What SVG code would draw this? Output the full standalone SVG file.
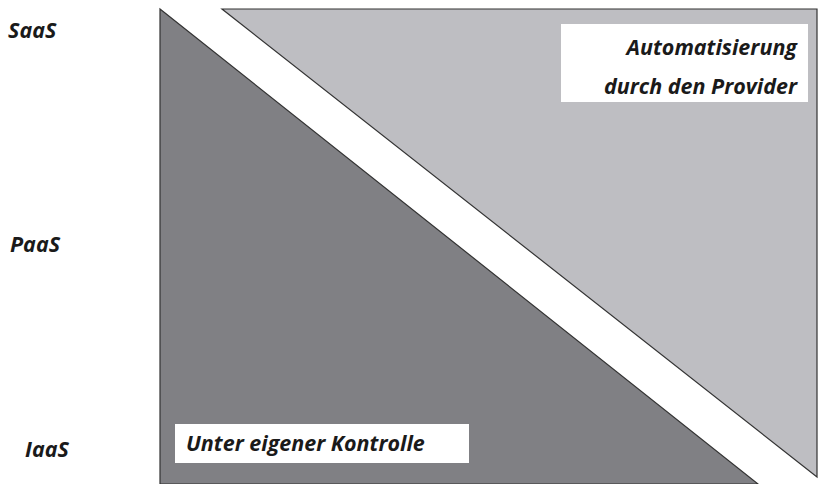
<svg xmlns="http://www.w3.org/2000/svg" width="818" height="484" viewBox="0 0 818 484">
<style>
.lbl{font-family:"Open Sans","Liberation Sans",sans-serif;font-weight:bold;font-style:italic;font-size:21.5px;fill:#1a1a1a}
.box{fill:#ffffff}
.tri{stroke:#333333;stroke-width:1.2}
</style>
<rect width="818" height="484" fill="#ffffff"/>
<g id="dark-area">
<polygon class="tri" points="160,9 758,484 160,484" fill="#808084"/>
</g>
<g id="light-area">
<polygon class="tri" points="222,9 817,9 817,477" fill="#bebec2"/>
</g>
<g id="connectors"></g>
<g id="provider-box">
<rect class="box" x="561" y="24" width="247" height="78"/>
<text class="lbl" x="797" y="55" text-anchor="end">Automatisierung</text>
<text class="lbl" x="797" y="94" text-anchor="end">durch den Provider</text>
</g>
<g id="control-box">
<rect class="box" x="175" y="424" width="294" height="39"/>
<text class="lbl" x="186" y="451">Unter eigener Kontrolle</text>
</g>
<g id="levels">
<text class="lbl" x="8" y="38">SaaS</text>
<text class="lbl" x="10" y="252">PaaS</text>
<text class="lbl" x="25" y="457">IaaS</text>
</g>
</svg>
